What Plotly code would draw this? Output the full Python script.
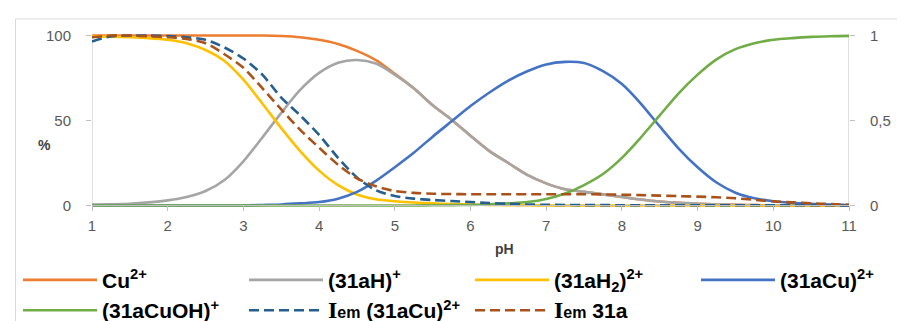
import plotly.graph_objects as go

# ---------------- data ----------------
pH = [1.0, 1.25, 1.5, 1.75, 2.0, 2.25, 2.5, 2.75, 3.0, 3.25, 3.5, 3.75, 4.0, 4.25,
      4.5, 4.75, 5.0, 5.25, 5.5, 5.75, 6.0, 6.25, 6.5, 6.75, 7.0, 7.25, 7.5, 7.75,
      8.0, 8.25, 8.5, 8.75, 9.0, 9.25, 9.5, 9.75, 10.0, 10.25, 10.5, 10.75, 11.0]

cu = [100, 100, 100, 100, 100, 100, 100, 100, 100, 100, 99.7, 99, 97.5, 95,
      91, 85.5, 77.5, 69, 59, 50.5, 41, 32, 25, 18, 13, 9.5, 8, 6.5,
      5, 3.5, 2.3, 1.5, 1, 0.6, 0.4, 0.2, 0.1, 0.1, 0, 0, 0]

l_h = [0.5, 0.7, 1, 1.8, 3, 5, 8.5, 15, 26, 40, 54.5, 68, 78, 84,
       85.6, 83.5, 77, 69, 59, 50.5, 41, 32, 25, 18, 13, 9.5, 8, 6.5,
       5, 3.5, 2.3, 1.5, 1, 0.6, 0.4, 0.2, 0.1, 0, 0, 0, 0]

l_h2 = [99.5, 99.3, 99, 98.5, 97.5, 95.5, 91.5, 85, 74, 60, 45.5, 32, 20.5, 12,
        6.5, 3.7, 2.5, 1.7, 1.2, 0.8, 0.5, 0.3, 0.2, 0.1, 0, 0, 0, 0,
        0, 0, 0, 0, 0, 0, 0, 0, 0, 0, 0, 0, 0]

l_cu = [0, 0, 0, 0, 0, 0, 0, 0, 0, 0.3, 0.6, 1.2, 2, 4,
        8, 14.5, 22.5, 31, 40.5, 49.5, 58.5, 66.5, 73.5, 79, 83, 84.5, 83.8, 79,
        71.5, 60, 46.5, 33.5, 22.5, 13.5, 7.5, 4.2, 2.5, 1.5, 0.9, 0.5, 0.2]

l_cuoh = [0, 0, 0, 0, 0, 0, 0, 0, 0, 0, 0, 0, 0, 0,
          0, 0, 0, 0, 0.1, 0.2, 0.3, 0.6, 1.2, 2, 3.8, 7, 12, 18.5,
          28, 40, 53, 66, 77, 86, 92, 95.5, 97.5, 98.5, 99.2, 99.6, 99.8]

iem_cu = [0.965, 0.995, 1.0, 1.0, 0.997, 0.99, 0.975, 0.93, 0.865, 0.77, 0.635, 0.53, 0.415, 0.28,
          0.165, 0.09, 0.056, 0.04, 0.032, 0.026, 0.02, 0.014, 0.01, 0.006, 0.004, 0.003, 0.002, 0.002,
          0.001, 0.001, 0.001, 0.001, 0.001, 0.001, 0.001, 0.001, 0.001, 0.001, 0.001, 0.001, 0.0]

iem_l = [0.99, 1.0, 1.0, 0.995, 0.99, 0.98, 0.955, 0.89, 0.81, 0.69, 0.565, 0.445, 0.34, 0.24,
         0.16, 0.113, 0.085, 0.074, 0.069, 0.067, 0.066, 0.066, 0.066, 0.066, 0.066, 0.066, 0.066, 0.065,
         0.063, 0.061, 0.058, 0.055, 0.052, 0.048, 0.042, 0.033, 0.024, 0.018, 0.013, 0.008, 0.004]

x_ticks = [1, 2, 3, 4, 5, 6, 7, 8, 9, 10, 11]
y_ticks = [0, 50, 100]
y2_ticks = [0, 0.5, 1]
y2_ticktext = ["0", "0,5", "1"]

I_EM = ('<span style="font-family:\'Liberation Serif\';font-size:24px">I</span>'
        '<span style="font-size:16px">em</span>')

names = ["Cu<sup>2+</sup>", "(31aH)<sup>+</sup>", "(31aH<sub>2</sub>)<sup>2+</sup>",
         "(31aCu)<sup>2+</sup>", "(31aCuOH)<sup>+</sup>",
         I_EM + " (31aCu)<sup>2+</sup>", I_EM + " 31a"]
# legend column of each series (4 columns, filled row by row)
leg_col = ["legend", "legend2", "legend3", "legend4", "legend", "legend2", "legend3"]

# ---------------- layout geometry ----------------
W, H = 905, 321
PL, PR = 84, 841          # pixel x of pH 1 and pH 11
Y100, Y0 = 28, 197        # pixel y of 100 % and 0 %
ppu = (Y0 - Y100) / 100.0
pad = 1.5
top = Y100 - pad * ppu
bot = Y0 + pad * ppu
ph_h = bot - top


def py(ypix):
    return (bot - ypix) / ph_h


def px(xpix):
    return (xpix - PL) / (PR - PL)


fig = go.Figure()
solid_series = [(cu, "#ED7D31"), (l_h, "#A5A5A5"), (l_h2, "#FFC000"),
                (l_cu, "#4472C4"), (l_cuoh, "#70AD47")]
for i, (vals, col) in enumerate(solid_series):
    fig.add_trace(go.Scatter(x=pH, y=vals, mode="lines", name=names[i],
                             legend=leg_col[i], legendgroup="g%d" % i,
                             line=dict(color=col, width=2.6, shape="spline", smoothing=0.8),
                             hoverinfo="skip"))

dashed_series = [(iem_cu, "#255E91"), (iem_l, "#A9531B")]
for j, (vals, col) in enumerate(dashed_series):
    k = 5 + j
    fig.add_trace(go.Scatter(x=pH, y=vals, mode="lines", name=names[k], yaxis="y2",
                             legend=leg_col[k], legendgroup="g%d" % k,
                             line=dict(color=col, width=2.6, dash="10px,5px",
                                       shape="spline", smoothing=0.8),
                             hoverinfo="skip"))

axis_col = "#BFBFBF"
tick_font = dict(family="Liberation Sans, Arial, sans-serif", size=15, color="#595959")
leg_font = dict(family="Liberation Sans, Arial, sans-serif", size=21,
                color="#000000", weight="bold")
leg_common = dict(orientation="v", xanchor="left", yanchor="top", itemwidth=74,
                  tracegroupgap=2, font=leg_font, bgcolor="rgba(0,0,0,0)",
                  traceorder="normal")
col_starts = [24, 250, 476, 702]   # pixel x where each legend column's line sample starts

fig.update_layout(
    width=W, height=H,
    margin=dict(l=PL, r=W - PR, t=top, b=H - bot, pad=0, autoexpand=False),
    paper_bgcolor="white", plot_bgcolor="white",
    showlegend=True,
    legend=dict(x=px(col_starts[0] - 14), y=py(251), **leg_common),
    legend2=dict(x=px(col_starts[1] - 14), y=py(251), **leg_common),
    legend3=dict(x=px(col_starts[2] - 14), y=py(251), **leg_common),
    legend4=dict(x=px(col_starts[3] - 14), y=py(251), **leg_common),
    xaxis=dict(range=[1, 11], tickvals=x_ticks, ticks="outside", ticklen=5,
               tickcolor=axis_col, showline=True, linecolor=axis_col, linewidth=1,
               showgrid=False, zeroline=False, anchor="free", position=py(Y0),
               tickfont=tick_font, ticklabelstandoff=2, fixedrange=True),
    yaxis=dict(range=[-pad, 100 + pad], tickvals=y_ticks, ticks="outside", ticklen=5,
               tickcolor=axis_col, showline=False, showgrid=False, zeroline=False,
               tickfont=tick_font, ticklabelstandoff=12, fixedrange=True),
    yaxis2=dict(range=[-pad / 100, 1 + pad / 100], tickvals=y2_ticks, ticktext=y2_ticktext,
                overlaying="y", side="right", ticks="outside", ticklen=5,
                tickcolor=axis_col, showline=False, showgrid=False, zeroline=False,
                tickfont=tick_font, ticklabelstandoff=12, fixedrange=True),
    shapes=[
        dict(type="line", xref="x", yref="y", x0=1, x1=1, y0=0, y1=100,
             line=dict(color=axis_col, width=1), layer="below"),
        dict(type="line", xref="x", yref="y", x0=11, x1=11, y0=0, y1=100,
             line=dict(color=axis_col, width=1), layer="below"),
        dict(type="rect", xref="paper", yref="paper", x0=px(7.5), x1=1.3,
             y0=-2, y1=py(11.5), line=dict(color="#D9D9D9", width=1),
             fillcolor="rgba(0,0,0,0)", layer="below"),
    ],
    annotations=[
        dict(text="<b>%</b>", xref="paper", yref="paper", x=px(28), y=py(137),
             showarrow=False, font=dict(family="Liberation Sans, Arial", size=14, color="#404040")),
        dict(text="<b>pH</b>", xref="paper", yref="paper", x=px(496), y=py(250),
             showarrow=False, font=dict(family="Liberation Sans, Arial", size=14, color="#404040")),
        dict(text="<b>I</b>", xref="paper", yref="paper", x=px(896), y=py(145),
             xanchor="left", showarrow=False,
             font=dict(family="Liberation Serif", size=18, color="#262626")),
    ],
)

fig.write_html("out.html")
